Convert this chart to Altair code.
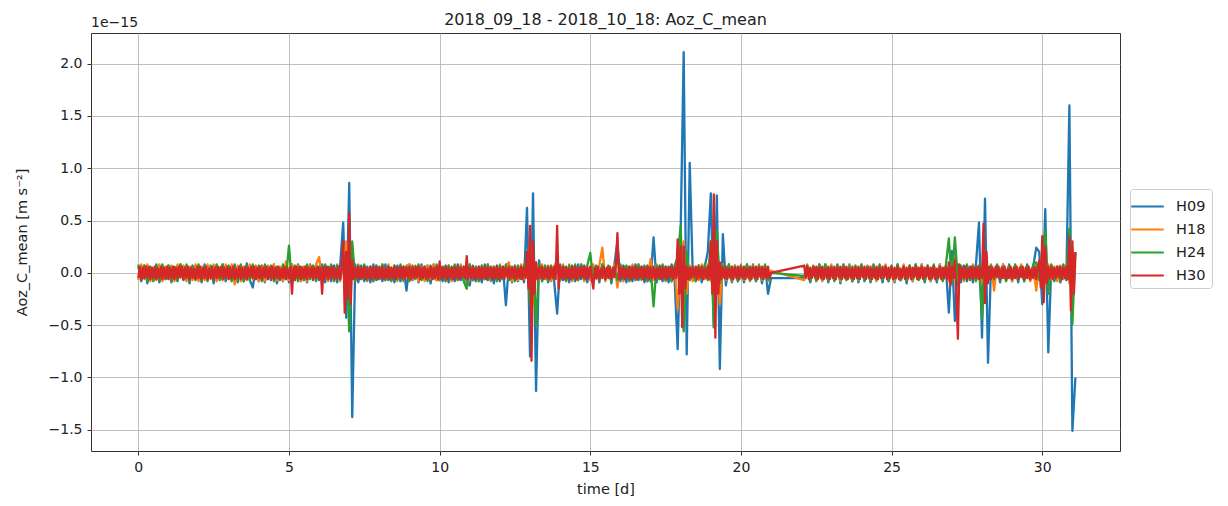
import altair as alt
import pandas as pd

SERIES = ["H09", "H18", "H24", "H30"]
COLORS = ["#1f77b4", "#ff7f0e", "#2ca02c", "#d62728"]
X_TICKS = [0, 5, 10, 15, 20, 25, 30]
Y_TICKS = [-1.5, -1.0, -0.5, 0.0, 0.5, 1.0, 1.5, 2.0]
TITLE = "2018_09_18 - 2018_10_18: Aoz_C_mean"
OFFSET_TEXT = "1e\u221215"

# record starts at day 0 and at day 22.1 after the gap; H09/H18/H24 read every 0.1 d, H30 every 0.05 d
START_A = 0.0
START_B = 22.1
STEP = {"H09": 0.1, "H18": 0.1, "H24": 0.1, "H30": 0.05}

# values in units of 1e-17 (hundredths of the 1e-15 axis unit)
H09_A = [
    6, -8, 7, -10, 5, -7, 8, -9, 6, -6,
    7, -9, 5, -8, 8, -7, 6, -10, 7, -5,
    6, -9, 8, -7, 5, -10, 7, -6, 8, -8,
    5, -7, 8, -9, 6, -8, 9, -7, -14, 6,
    -8, 7, -9, 6, -7, 8, -10, 5, -8, 7,
    -9, 8, -7, 8, -8, 6, -9, 8, -7, 8,
    -7, 8, -9, 6, -8, 7, -9, 8, 48, -43,
    86, -138, 8, -9, 7, -8, 6, -9, 8, -7,
    6, -8, 8, -7, 5, -9, 7, -8, 6, -17,
    8, -7, 6, -9, 8, -6, 7, -10, 8, -7,
    6, -8, 7, -9, 5, -8, 8, -7, 6, -9,
    -12, 7, -8, 6, -9, 8, -7, 5, -10, 7,
    -8, 6, -31, 8, -9, 7, -8, 6, -9, 62,
    -80, 76, -113, 12, -8, 7, -9, 6, -8, -39,
    8, -7, 6, -9, 7, -8, 8, -6, 7, -9,
    6, -8, 7, -9, 8, -7, 6, -10, 8, 30,
    -8, 7, -9, 6, -8, 8, -7, 6, -9, 7,
    -8, 34, -9, 7, -8, 6, -9, 8, -7, -73,
    40, 211, -78, 105, 0, -8, 7, -9, 6, 20,
    76, -52, 74, -92, 37, -12, 8, -9, 7, -8,
    6, -9, 8, -7, 8, -8, 6, -10, 7, -20,
    -5,
]
H09_B = [
    -5, 7, -9, 6, -8, 8, -7, 8, -9, 6,
    -7, 8, -10, 7, -6, 8, -8, 6, -9, 7,
    -8, 6, -9, 8, -7, 5, -9, 7, -8, 6,
    -9, 8, -7, 6, -10, 7, -8, 8, -6, 8,
    -9, 7, -8, 6, -9, 8, -7, 6, -38, 21,
    -46, 8, -9, 7, -8, 6, -9, 8, 48, -62,
    71, -86, 7, -8, 6, -9, 8, -7, 8, -8,
    6, -9, 7, -8, 8, -7, 6, 24, 20, -30,
    61, -76, 7, -8, 6, -9, 8, -7, 160, -151,
    -100,
]

H18_A = [
    -7, 8, -6, 8, -8, 5, -7, 8, -8, 6,
    -6, 7, -8, 8, -5, 7, -8, 6, -7, 8,
    -8, 6, -7, 8, -6, 8, -8, 5, -7, 8,
    -6, 8, -11, 7, -8, 6, -7, 8, -6, 7,
    -8, 6, -8, 7, -5, 8, -7, 6, -8, 11,
    -7, 8, -6, 7, -8, 6, -8, 7, -6, 8,
    15, -7, 6, -8, 7, -6, 8, -8, 10, 30,
    -30, 20, -7, 8, -6, 7, -8, 6, -8, 7,
    -6, 8, -7, 8, -6, 7, -8, 6, -8, 7,
    8, -6, 7, -8, 6, -8, 7, -6, 8, -7,
    -7, 6, -8, 7, -8, 6, -7, 8, -6, -15,
    8, -7, 6, -8, 7, -6, 8, -8, 6, -7,
    8, -6, 7, 10, -8, 6, -7, 8, -6, 8,
    28, -30, 10, -7, 8, -6, 7, -8, 6, 12,
    -7, 8, -6, 8, -8, 6, -7, 8, -8, 6,
    -7, 8, -6, 7, 24, -8, 6, -7, 8, -14,
    7, -8, 6, -7, 8, -6, 8, -7, 6, -8,
    13, -7, 8, -6, 7, -8, 6, -8, 7, -35,
    10, 30, -20, 7, -8, 6, -7, 8, -6, 8,
    -8, 10, 20, -30, 8, -7, 6, -8, 7, -6,
    8, -7, 6, -8, 7, -6, 8, -7, 6, -8,
    2,
]
H18_B = [
    -7, 8, -6, 7, -8, 6, -8, 7, -6, 8,
    -7, 6, -8, 8, -6, 7, -8, 6, -7, 8,
    -6, 7, -8, 6, -8, 7, -6, 8, -7, 6,
    -8, 7, -6, 8, -7, 6, -8, 7, -6, 8,
    -7, 6, -8, 7, -6, 8, -7, 6, -8, 7,
    15, -7, 6, -8, 7, -6, 8, -7, 6, -10,
    8, -7, 8, -17, 7, -6, 8, -7, 6, -8,
    7, -6, 8, -7, 6, -8, 7, -17, 8, 15,
    -10, 8, -7, 6, -8, 7, -6, 8, -10, 20,
    5,
]

H24_A = [
    8, -6, 7, -8, 6, -8, 7, -7, 8, -6,
    7, -8, 6, -7, 8, -6, 8, -8, 6, -7,
    8, -7, 6, -8, 7, -6, 8, -7, 8, -6,
    7, -8, 6, -7, 8, -8, 6, -7, 8, -6,
    7, -8, 8, -6, 7, -8, 6, -7, 8, -6,
    26, -10, 7, -8, 6, -7, 8, -6, 7, -8,
    6, -7, 8, -6, 8, -8, 7, -6, 10, 20,
    -56, 30, -8, 7, -6, 8, -7, 6, -8, 7,
    -6, 8, -7, 6, -8, 7, -6, 8, -7, 6,
    -8, 7, -6, 8, -7, 6, -8, 7, -6, 8,
    -7, 6, -8, 7, -6, 8, -7, 6, -8, -15,
    8, -7, 6, -8, 7, -6, 8, -7, 6, -8,
    7, -6, 8, -7, 6, -8, 7, -6, 8, 10,
    -30, 20, -50, 8, -7, 6, -8, 7, -6, 8,
    -7, 6, -8, 7, -6, 8, -7, 8, -6, 7,
    19, -8, 6, -7, 8, -6, 7, -8, 6, -7,
    8, -6, 7, -8, 6, -7, 8, -6, 7, -8,
    6, -32, 7, -6, 8, -7, 6, -8, 7, 15,
    45, -56, 20, -7, 6, -8, 7, -6, 8, -7,
    30, -52, 40, -10, 7, -6, 8, -7, 6, -8,
    7, -6, 8, -7, 6, -8, 7, -6, 8, -7,
    0,
]
H24_B = [
    -3, 7, -8, 6, -7, 8, -6, 8, -7, 6,
    -8, 7, -6, 8, -7, 6, -8, 7, -6, 8,
    -7, 6, -8, 7, -6, 8, -7, 6, -8, 7,
    -6, 8, -7, 6, -8, 7, -6, 8, -7, 6,
    -8, 7, -6, 8, -7, 6, -8, 7, 33, -10,
    34, -8, 7, -6, 8, -7, 6, -8, 7, -43,
    20, -8, 7, -6, 8, -7, 6, -8, 7, -6,
    8, -7, 6, -8, 7, -6, 8, 10, -7, 12,
    40, -20, 8, -7, 6, -8, 7, -6, 42, -49,
    20,
]

# H30 read at 0.05 d: one row per day
H30_A = [
    -5, 6, -6, 5, -5, 6, -4, 6, -6, 5, -5, 6, -6, 4, -5, 6, -6, 5, -5, 6,
    -6, 5, -5, 6, -6, 5, -5, 6, -4, 6, -6, 5, -5, 6, -6, 5, -5, 4, -6, 6,
    -5, 6, -6, 5, -5, 6, -6, 4, -5, 6, -6, 5, -5, 6, -4, 6, -6, 5, -5, 6,
    -6, 5, -5, 6, -6, 4, -5, 6, -6, 5, -5, 6, -6, 5, -4, 6, -5, 6, -6, 5,
    -5, 6, -6, 5, -4, 6, -6, 5, -5, 6, -6, 5, -5, 6, -6, 4, -5, 6, -6, 5,
    -5, 6, -20, 5, -6, 6, -5, 6, -6, 5, -5, 6, -6, 5, -4, 6, -6, 5, -5, 6,
    -6, 5, -20, 6, -5, 6, -6, 5, -5, 6, -6, 4, -5, 6, -6, 5, 30, -38, 20, -25,
    57, -30, 12, -6, 5, -5, 6, -6, 5, -5, 6, -6, 4, -5, 6, -6, 5, -5, 6, -6,
    5, -5, 6, -6, 4, -5, 6, -6, 5, -5, 6, -6, 5, -4, 6, -5, 6, -6, 5, -5,
    6, -6, 5, -5, 6, -4, 6, -6, 5, -5, 6, -6, 4, -5, 6, -6, 5, -5, 6, -6,
    11, -6, 5, -5, 6, -6, 4, -5, 6, -6, 5, -5, 6, -6, 5, -4, 6, -5, 16, -6,
    5, -5, 6, -6, 4, -5, 6, -6, 5, -5, 6, -6, 5, -4, 6, -6, 5, -5, 6, -6,
    5, -5, 6, -6, 5, -4, 6, -6, 5, -5, 6, -6, 4, -5, 6, -6, 5, -5, 20, -15,
    45, -84, 30, -20, 10, -6, 5, -5, 6, -6, 4, -5, 6, -6, 5, -5, 6, -6, 45, -15,
    6, -5, 6, -6, 5, -5, 4, -6, 6, -5, 6, -6, 5, -5, 6, -4, 6, -6, 5, -5,
    6, -6, -15, 5, -5, 6, -6, 4, -5, 6, -6, 5, -5, 6, -6, 5, -4, 6, 38, -6,
    5, -5, 6, -6, 4, -5, 6, -6, 5, -5, 6, -6, 5, -4, 6, -6, 5, -5, 6, -6,
    5, -5, 6, -6, 4, -5, 6, -6, 5, -5, 6, -6, 5, -4, 6, -6, 5, -5, 32, -20,
    25, -52, 25, -15, 6, -6, 5, -5, 6, -4, 6, -6, 5, -5, 6, -6, 4, -5, 6, -6,
    30, -20, 75, -62, 30, -20, 10, -6, 5, -5, 6, -6, 4, -5, 6, -6, 5, -5, 6, -6,
    5, -5, 6, -6, 4, -5, 6, -6, 5, -5, 6, -6, 5, -4, 6, -6, 5, -5, 6, -5,
    0,
]
H30_B = [
    7, -5, 6, -6, 5, -5, 6, -4, 6, -6, 5, -5, 6, -6, 4, -5, 6, -6, 5, -5,
    6, -6, 5, -4, 6, -6, 5, -5, 6, -6, 4, -5, 6, -6, 5, -5, 6, -6, 5, -4,
    6, -6, 5, -5, 6, -6, 4, -5, 6, -6, 5, -5, 6, -4, 6, -6, 5, -5, 6, -6,
    5, -5, 6, -6, 4, -5, 6, -6, 5, -5, 6, -6, 5, -4, 6, -6, 5, -5, 6, -6,
    5, -4, 6, -6, 5, -5, 6, -6, 4, -5, 6, -6, 5, -5, 6, -6, 10, -12, 6, -5,
    12, -20, -63, 8, -6, 5, -5, 6, -6, 4, -5, 6, -6, 5, -5, 6, -6, 5, -5, 47,
    -29, 20, -10, 6, -6, 5, -5, 6, -4, 6, -6, 5, -5, 6, -6, 4, -5, 6, -6, 5,
    -5, 6, -6, 5, -4, 6, -6, 5, -5, 6, -6, 4, -5, 6, -6, 5, 12, -14, 35, -28,
    25, -10, 6, -5, 6, -6, 5, -5, 6, -4, 6, -6, 5, -5, 6, -6, 34, -36, 30, -20,
    20,
]

BLOCKS = {
    "H09": (H09_A, H09_B),
    "H18": (H18_A, H18_B),
    "H24": (H24_A, H24_B),
    "H30": (H30_A, H30_B),
}

rows = []
for s in SERIES:
    block_a, block_b = BLOCKS[s]
    step = STEP[s]
    for start, block in ((START_A, block_a), (START_B, block_b)):
        for i, v in enumerate(block):
            rows.append({"time": round(start + i * step, 3), "value": v / 100.0, "series": s})
df = pd.DataFrame(rows)

FONT = "DejaVu Sans"

lines = alt.Chart(df).mark_line(strokeWidth=2.3, clip=True, strokeJoin="round").encode(
    x=alt.X(
        "time:Q",
        scale=alt.Scale(domain=[-1.57, 32.58], nice=False, zero=False),
        axis=alt.Axis(values=X_TICKS, format="d", title="time [d]"),
    ),
    y=alt.Y(
        "value:Q",
        scale=alt.Scale(domain=[-1.703, 2.293], nice=False, zero=False),
        axis=alt.Axis(values=Y_TICKS, format=".1f", title="Aoz_C_mean [m s\u207b\u00b2]"),
    ),
    color=alt.Color(
        "series:N",
        scale=alt.Scale(domain=SERIES, range=COLORS),
        legend=alt.Legend(
            title=None,
            orient="none",
            legendX=1039,
            legendY=156,
            symbolType="M-1.55,0H1.55",
            symbolSize=441,
            symbolStrokeWidth=2,
            labelFontSize=14.5,
            labelFont=FONT,
            labelColor="#222222",
            strokeColor="#cccccc",
            fillColor="white",
            cornerRadius=3,
            padding=6,
            rowPadding=5,
            labelOffset=17,
        ),
    ),
    order=alt.Order("time:Q"),
)

offset = alt.Chart(pd.DataFrame({"t": [OFFSET_TEXT]})).mark_text(
    align="left", baseline="alphabetic", fontSize=14, font=FONT, color="#222222"
).encode(x=alt.value(0), y=alt.value(-6), text="t:N")

chart = (
    alt.layer(lines, offset)
    .properties(
        width=1029,
        height=418,
        title=alt.TitleParams(TITLE, fontSize=16, font=FONT, fontWeight="normal", color="#222222", offset=-12),
        autosize=alt.AutoSizeParams(type="none"),
        padding={"left": 83, "top": 25, "right": 100, "bottom": 47},
    )
    .configure_view(stroke="#333333", strokeWidth=1)
    .configure_axis(
        domain=False,
        grid=True,
        gridColor="#b0b0b0",
        gridWidth=0.8,
        tickColor="#333333",
        tickSize=4,
        labelFont=FONT,
        labelFontSize=14,
        labelColor="#222222",
        labelPadding=5,
        titleFont=FONT,
        titleFontSize=14.5,
        titleFontWeight="normal",
        titleColor="#222222",
    )
    .configure_axisX(titlePadding=8)
    .configure_axisY(titlePadding=19)
)

chart.save("out.html", embed_options={"renderer": "svg", "actions": False})
